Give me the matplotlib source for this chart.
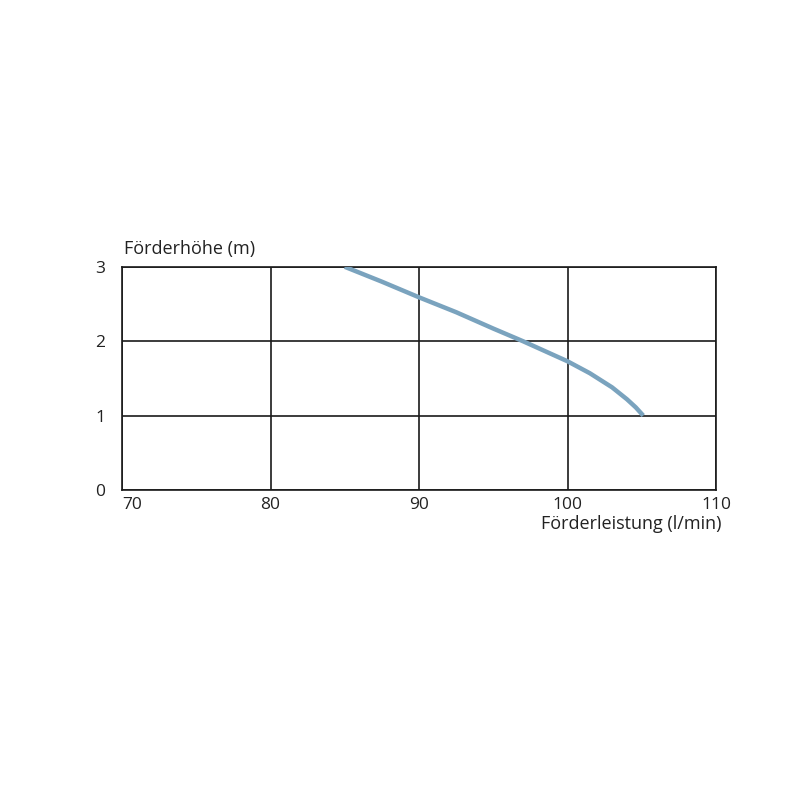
import numpy as np
import matplotlib.pyplot as plt

plt.rcParams['font.family'] = ['Open Sans', 'DejaVu Sans']

# Kennlinie
flow = [85.0, 87.5, 90.0, 92.5, 95.0, 97.0, 99.0, 100.0, 101.5, 103.0, 104.0, 104.6, 105.1]
head = [3.0, 2.80, 2.59, 2.39, 2.17, 2.0, 1.82, 1.73, 1.57, 1.38, 1.22, 1.11, 1.0]
x_ticks = [70, 80, 90, 100, 110]
y_ticks = [0, 1, 2, 3]

fig = plt.figure(figsize=(8, 8), dpi=100)
ax = fig.add_axes([0.1525, 0.3875, 0.7425, 0.279])

ax.plot(flow, head, color='#7aa3be', lw=3.2, solid_capstyle='butt', zorder=3)

ax.set_xlim(70, 110)
ax.set_ylim(0, 3)
ax.set_xticks(x_ticks)
ax.set_yticks(y_ticks)
ax.grid(True, color='#1a1a1a', lw=1.2)
for s in ax.spines.values():
    s.set_color('#1a1a1a')
    s.set_linewidth(1.2)
ax.tick_params(length=0, labelsize=12.5, colors='#222222', pad=5)
ax.tick_params(axis='y', pad=12)
ax.get_xticklabels()[0].set_horizontalalignment('left')

fig.text(0.155, 0.678, 'Förderhöhe (m)', fontsize=13, color='#222222', va='bottom')
fig.text(0.902, 0.3335, 'Förderleistung (l/min)', fontsize=13, color='#222222', ha='right', va='bottom')

plt.savefig('out.png', dpi=100)
